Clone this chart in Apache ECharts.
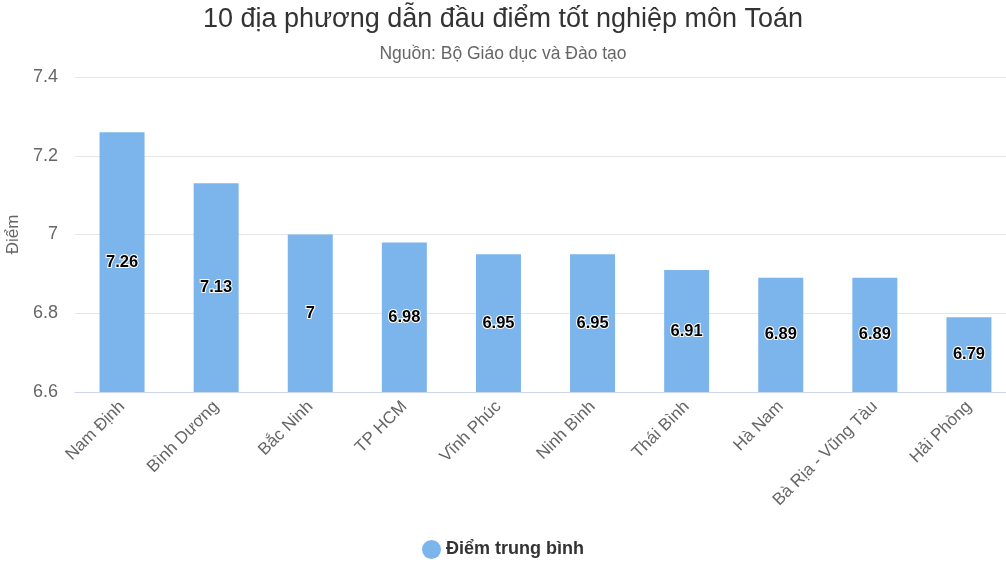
<!DOCTYPE html>
<html>
<head>
<meta charset="utf-8">
<script src="https://cdn.jsdelivr.net/npm/echarts@6/dist/echarts.min.js"></script>
<style>
  html, body { margin: 0; padding: 0; background: #fff; }
  #chart { width: 1006px; height: 566px; }
</style>
</head>
<body>
<div id="chart"></div>
<script>
const categories = ['Nam Định', 'Bình Dương', 'Bắc Ninh', 'TP HCM', 'Vĩnh Phúc',
  'Ninh Bình', 'Thái Bình', 'Hà Nam', 'Bà Rịa - Vũng Tàu', 'Hải Phòng']
const scores = [7.26, 7.13, 7, 6.98, 6.95, 6.95, 6.91, 6.89, 6.89, 6.79]
const yTicks = { min: 6.6, max: 7.4, interval: 0.2 }

const font = 'Liberation Sans, Arial, sans-serif'
const chart = echarts.init(document.getElementById('chart'))

chart.setOption({
  animation: false,
  title: {
    text: '10 địa phương dẫn đầu điểm tốt nghiệp môn Toán',
    subtext: 'Nguồn: Bộ Giáo dục và Đào tạo',
    left: 'center',
    top: 1,
    itemGap: 12,
    textStyle: { fontFamily: font, fontSize: 27, fontWeight: 'normal', color: '#333' },
    subtextStyle: { fontFamily: font, fontSize: 17.5, color: '#666' }
  },
  legend: {
    bottom: 2,
    left: 'center',
    icon: 'circle',
    itemWidth: 19,
    itemHeight: 19,
    textStyle: { fontFamily: font, fontSize: 18, fontWeight: 'bold', color: '#333' }
  },
  grid: { left: 75, right: -10, top: 77, bottom: 174, outerBoundsMode: 'none' },
  xAxis: {
    type: 'category',
    data: categories,
    axisLine: { lineStyle: { color: '#ccd6eb' } },
    axisTick: { show: false },
    axisLabel: {
      rotate: 45,
      interval: 0,
      margin: 12,
      fontFamily: font,
      fontSize: 17,
      color: '#666'
    }
  },
  yAxis: {
    type: 'value',
    min: yTicks.min,
    max: yTicks.max,
    interval: yTicks.interval,
    name: 'Điểm',
    nameLocation: 'middle',
    nameGap: 53,
    nameTextStyle: { fontFamily: font, fontSize: 17, color: '#666' },
    axisLine: { show: false },
    axisTick: { show: false },
    axisLabel: {
      fontFamily: font,
      fontSize: 18,
      color: '#666',
      margin: 17,
      formatter: v => String(+v.toFixed(1))
    },
    splitLine: { lineStyle: { color: '#e6e6e6' } }
  },
  series: [{
    name: 'Điểm trung bình',
    type: 'bar',
    data: scores,
    barWidth: 45,
    itemStyle: { color: '#7cb5ec' },
    label: {
      show: true,
      position: 'inside',
      fontFamily: font,
      fontSize: 16.5,
      fontWeight: 'bold',
      color: '#000',
      textBorderColor: '#fff',
      textBorderWidth: 2
    }
  }]
})
</script>
</body>
</html>
